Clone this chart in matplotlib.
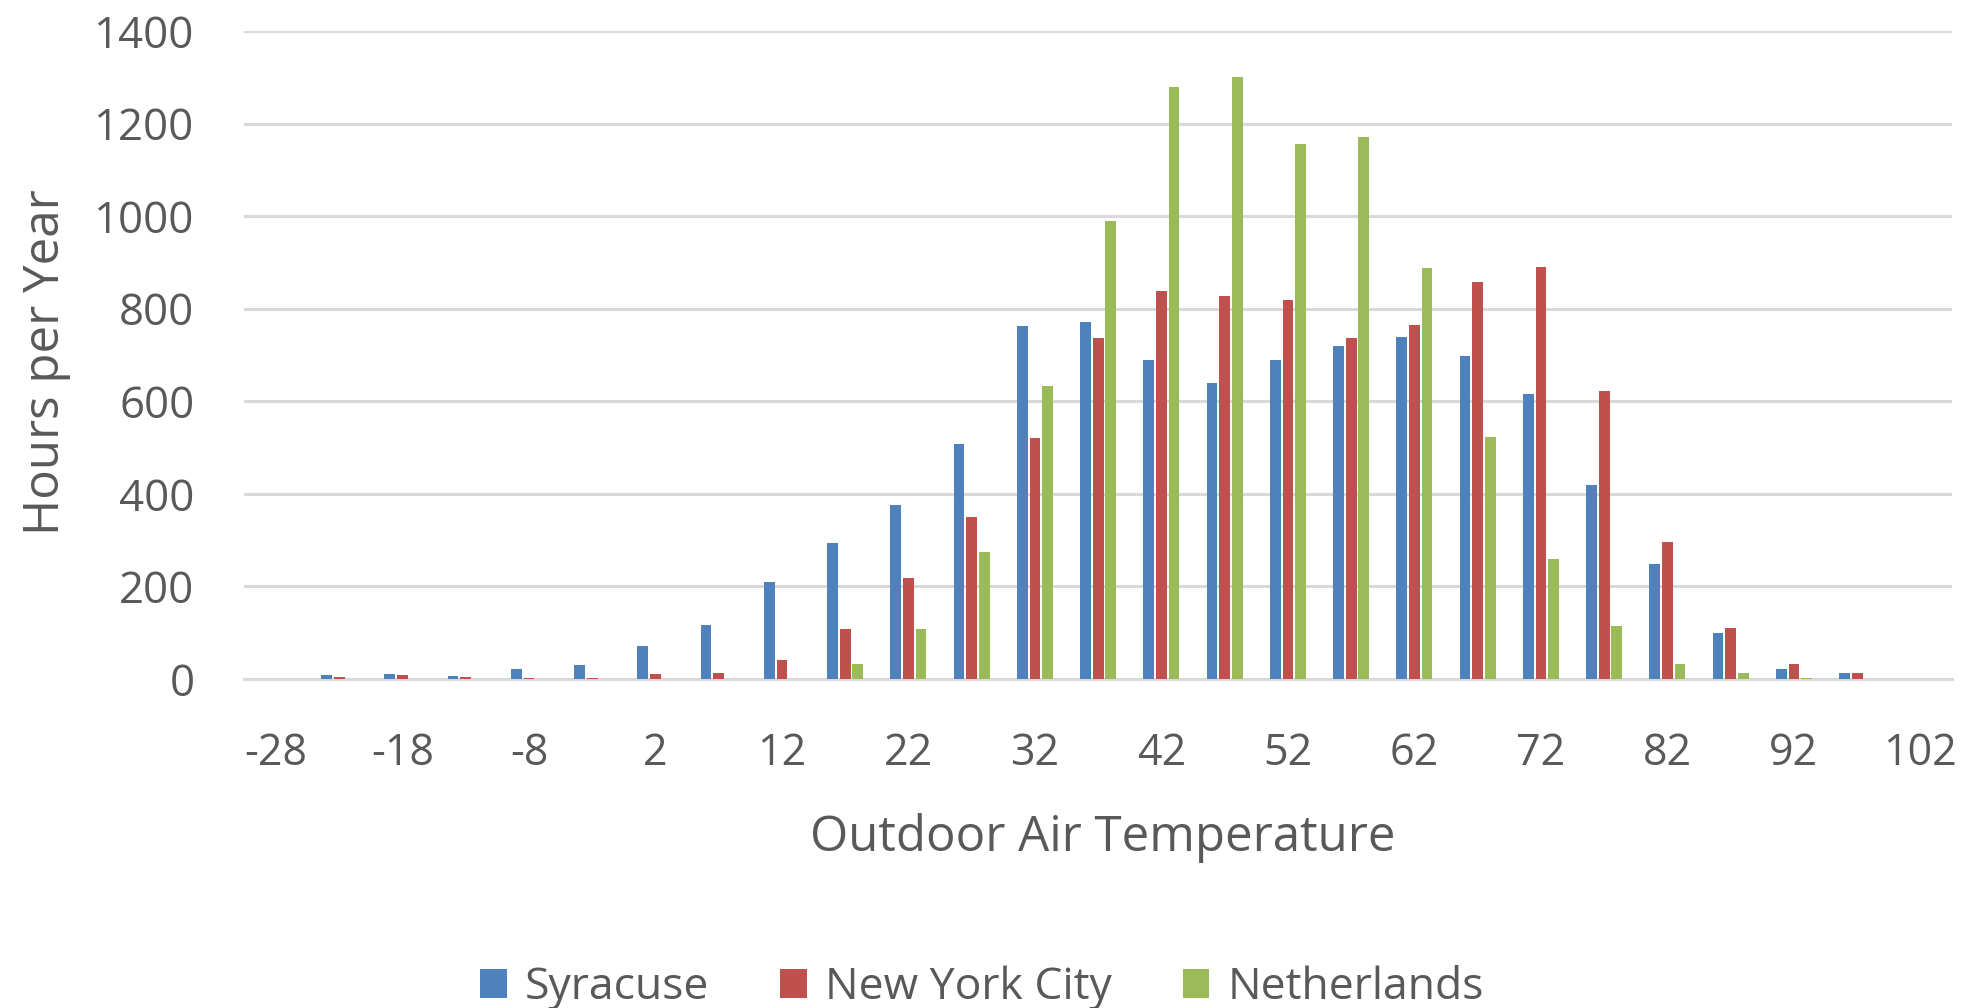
import matplotlib
matplotlib.use("Agg")
import matplotlib.pyplot as plt
import numpy as np

# ---- data ----
temperatures = [-28, -23, -18, -13, -8, -3, 2, 7, 12, 17, 22, 27, 32, 37, 42, 47,
                52, 57, 62, 67, 72, 77, 82, 87, 92, 97, 102]
syracuse = [0, 8, 10, 6, 21, 30, 71, 116, 210, 294, 377, 508, 762, 772, 689, 640,
            689, 720, 738, 698, 616, 419, 249, 99, 22, 12, 0]
new_york = [0, 4, 8, 5, 3, 2, 11, 13, 40, 107, 219, 350, 520, 737, 839, 828,
            819, 736, 764, 858, 890, 623, 295, 110, 32, 12, 0]
netherlands = [0, 0, 0, 0, 0, 0, 0, 0, 0, 32, 107, 275, 633, 989, 1279, 1301,
               1156, 1170, 887, 523, 259, 115, 33, 12, 3, 0, 0]
series_names = ["Syracuse", "New York City", "Netherlands"]
y_ticks = [0, 200, 400, 600, 800, 1000, 1200, 1400]

colors = ["#4F81BD", "#C0504D", "#9BBB59"]
FONT = "Open Sans"
TXT = "#595959"

W, H = 1971, 1008
fig = plt.figure(figsize=(W / 100, H / 100), dpi=100)
ax = fig.add_axes([244.4 / W, 1 - 679 / H, (1952 - 244.4) / W, (679 - 31) / H])

x = np.arange(len(temperatures))
slot = 0.2
bw = 0.17
for i, (vals, c, name) in enumerate(zip([syracuse, new_york, netherlands], colors, series_names)):
    ax.bar(x + (i - 1) * slot, vals, width=bw, color=c, label=name, zorder=3)

ax.set_xlim(-0.5, len(temperatures) - 0.5)
ax.set_ylim(0, 1400)
ax.set_yticks(y_ticks)
ax.set_yticklabels([str(v) for v in y_ticks], fontfamily=FONT, fontsize=31.5, color=TXT)
ax.set_xticks(x[::2])
ax.set_xticklabels([str(t) for t in temperatures[::2]], fontfamily=FONT, fontsize=31, color=TXT)
ax.tick_params(axis="y", length=0, pad=36)
ax.tick_params(axis="x", length=0, pad=38)

ax.grid(axis="y", color="#D9D9D9", linewidth=2.2, zorder=0)
for s in ["top", "right", "left"]:
    ax.spines[s].set_visible(False)
ax.spines["bottom"].set_color("#D9D9D9")
ax.spines["bottom"].set_linewidth(2.2)

fig.text(1103 / W, 1 - 838 / H, "Outdoor Air Temperature", fontfamily=FONT, fontsize=35.5,
         color=TXT, ha="center", va="center")
fig.text(46 / W, 1 - 362 / H, "Hours per Year", fontfamily=FONT, fontsize=35.5,
         color=TXT, ha="center", va="center", rotation=90)

handles, labels = ax.get_legend_handles_labels()
leg = fig.legend(handles, labels, loc="center", bbox_to_anchor=(982 / W, 1 - 988 / H),
                 ncol=3, frameon=False, prop={"family": FONT, "size": 32},
                 handlelength=0.6, handleheight=0.6, handletextpad=0.4, columnspacing=1.6)
for t in leg.get_texts():
    t.set_color(TXT)

fig.savefig("out.png", dpi=100, facecolor="white")
